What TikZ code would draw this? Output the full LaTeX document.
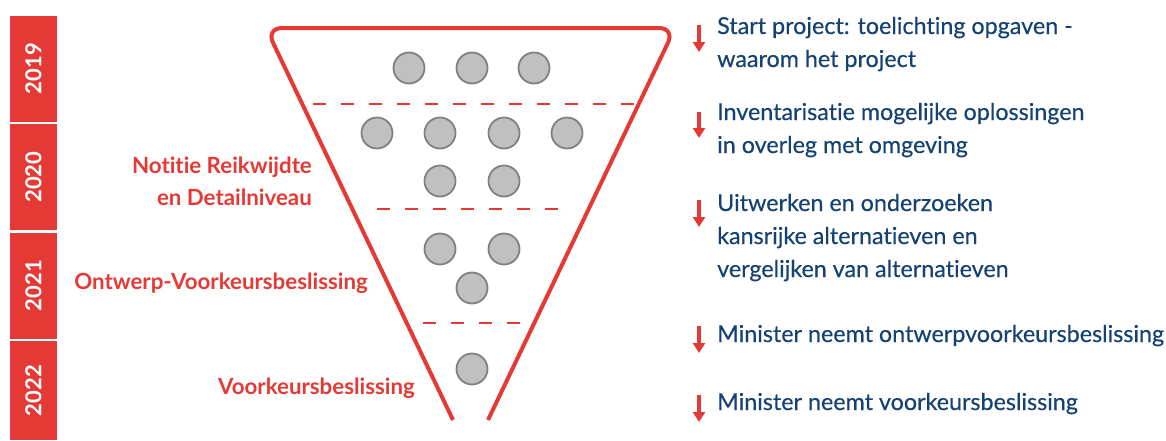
\documentclass[tikz,border=0pt]{standalone}
\usepackage{fontspec}
\setmainfont{Lato}[Ligatures=NoCommon]
\newfontfamily\phasefont{Lato}[Ligatures=NoCommon, FakeBold=0.4]
\usetikzlibrary{arrows.meta,positioning}
\definecolor{funnelred}{RGB}{229,57,53}
\definecolor{textblue}{RGB}{21,66,115}
\definecolor{dotgray}{RGB}{192,192,192}
\definecolor{dotedge}{RGB}{128,128,128}

\begin{document}
\begin{tikzpicture}
        [x=1pt,y=-1pt,
        year/.style={fill=funnelred, text=white, rotate=90, minimum width=106pt, minimum height=47pt, inner sep=0pt, font=\fontsize{22}{22}\selectfont\bfseries},
        dot/.style={circle, draw=dotedge, fill=dotgray, line width=1.8pt, minimum size=31pt, inner sep=0pt},
        funnel/.style={funnelred, line width=4pt, rounded corners=16pt},
        divider/.style={funnelred, line width=2pt, dash pattern=on 13pt off 15pt},
        milestone/.style={text=funnelred, anchor=east, align=right, inner sep=0pt, font=\fontsize{22.3}{32}\selectfont\bfseries},
        phase/.style={text=textblue, anchor=base west, align=left, inner sep=0pt, font=\fontsize{23.3}{33}\selectfont\phasefont},
        marker/.style={funnelred, line width=3.2pt, -{Triangle[width=12pt,length=10pt]}}]

        \useasboundingbox (0,0) rectangle (1166,440);

        % Year bar on the left
        \node[year] (y2019) at (33.5,68.5) {2019};
        \node[year] (y2020) at (33.5,177) {2020};
        \node[year] (y2021) at (33.5,285.5) {2021};
        \node[year, minimum width=99pt] (y2022) at (33.5,390.5) {2022};

        % Funnel outline
        \coordinate (fl) at (453,420);
        \coordinate (ftl) at (266,28);
        \coordinate (ftr) at (675,28);
        \coordinate (fr) at (488,420);
        \draw[funnel] (fl) -- (ftl) -- (ftr) -- (fr);

        % Dashed lines between the phases
        \draw[divider] (313,104) -- (634,104);
        \draw[divider] (377,209) -- (558,209);
        \draw[divider] (423,323) -- (520,323);

        % Options in the funnel
        \node[dot] (d11) at (409,68) {};
        \node[dot] (d12) at (472,68) {};
        \node[dot] (d13) at (534,68) {};
        \node[dot] (d21) at (377,133) {};
        \node[dot] (d22) at (440,133) {};
        \node[dot] (d23) at (504,133) {};
        \node[dot] (d24) at (567,133) {};
        \node[dot] (d25) at (440,181) {};
        \node[dot] (d26) at (504,181) {};
        \node[dot] (d31) at (440,249) {};
        \node[dot] (d32) at (504,249) {};
        \node[dot] (d33) at (472,288) {};
        \node[dot] (d41) at (472,369) {};

        % Decisions (red, left of the funnel)
        \node[milestone] (nrd) at (312,181) {Notitie Reikwijdte\\en Detailniveau};
        \node[milestone] (ovkb) at (368,283) {Ontwerp-Voorkeursbeslissing};
        \node[milestone] (vkb) at (415,388) {Voorkeursbeslissing};

        % Steps on the right (anchored at the baseline of the last line)
        \node[phase] (p1) at (717,67) {Start project: toelichting opgaven -\\waarom het project};
        \node[phase] (p2) at (717,153) {Inventarisatie mogelijke oplossingen\\in overleg met omgeving};
        \node[phase] (p3) at (717,277) {Uitwerken en onderzoeken\\kansrijke alternatieven en\\vergelijken van alternatieven};
        \node[phase] (p4) at (717,342) {Minister neemt ontwerpvoorkeursbeslissing};
        \node[phase] (p5) at (717,410) {Minister neemt voorkeursbeslissing};

        % Red arrows in front of the steps
        \coordinate (m1) at (699,25);
        \coordinate (m2) at (699,112);
        \coordinate (m3) at (699,200);
        \coordinate (m4) at (699,326);
        \coordinate (m5) at (699,395);
        \draw[marker] (m1) -- ++(0,27);
        \draw[marker] (m2) -- ++(0,26);
        \draw[marker] (m3) -- ++(0,27);
        \draw[marker] (m4) -- ++(0,27);
        \draw[marker] (m5) -- ++(0,27);

    \end{tikzpicture}
\end{document}
